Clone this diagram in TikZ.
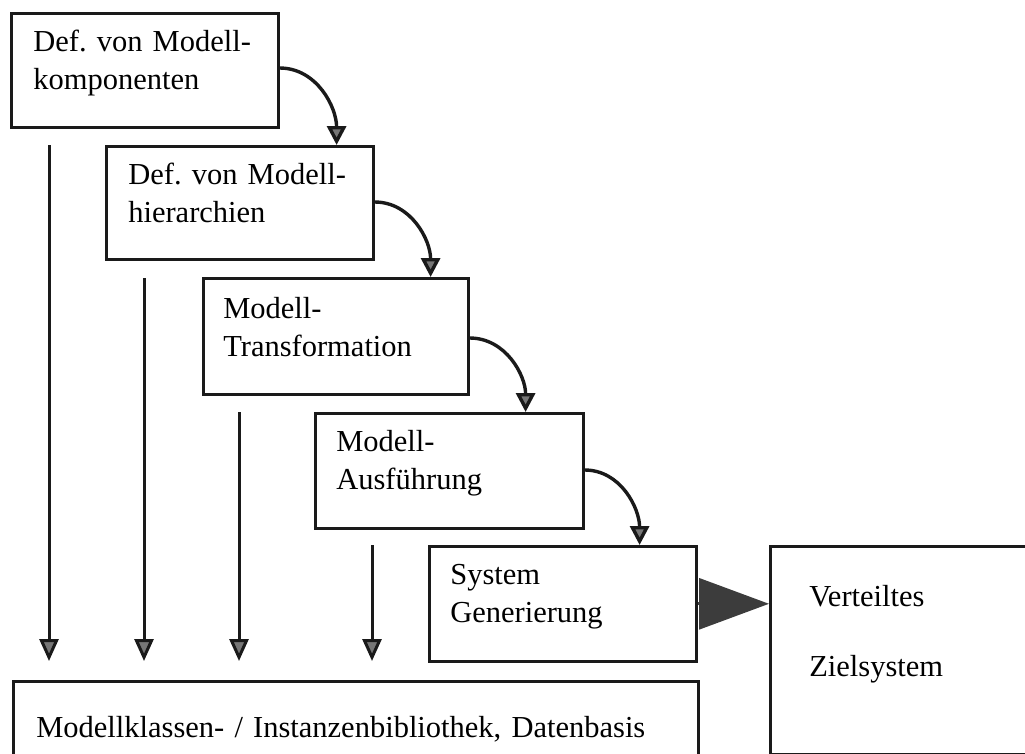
\documentclass[tikz,border=0pt]{standalone}
\usepackage{fontspec}
\setmainfont{Liberation Serif}
\usetikzlibrary{arrows.meta,calc}
\definecolor{linec}{HTML}{1A1A1A}
\definecolor{headc}{HTML}{777777}
\definecolor{bigc}{HTML}{3C3C3C}
\tikzset{
  stage/.style={draw=linec, line width=2.6pt, anchor=north west, inner ysep=0pt,
    align=left, font=\fontsize{30.5}{38}\selectfont\frenchspacing, text height=38pt},
  curv/.style={draw=linec, line width=3.4pt,
    -{Triangle[length=19pt,width=19pt,fill=headc]}},
  vert/.style={draw=linec, line width=3pt, shorten >=19pt,
    -{Triangle[length=22pt,width=19pt,fill=headc]}},
  bigarr/.style={draw=bigc, line width=3pt,
    -{Triangle[length=70pt,width=51pt,fill=bigc]}}
}
\begin{document}
\begin{tikzpicture}[x=1pt,y=-1pt]
\useasboundingbox (0,0) rectangle (1025,753);
\clip (0,0) rectangle (1025,753);
% stage boxes
\node[stage, inner xsep=22pt, text width=223pt, text depth=76pt] (b1) at (10,12)
  {Def. von Modell-\\komponenten};
\node[stage, inner xsep=22pt, text width=223pt, text depth=75pt] (b2) at (105,145)
  {Def. von Modell-\\hierarchien};
\node[stage, inner xsep=20pt, text height=40pt, text width=225pt, text depth=76pt] (b3) at (202,277)
  {Modell-\\Transformation};
\node[stage, inner xsep=21pt, text width=226pt, text depth=77pt] (b4) at (314,412)
  {Modell-\\Ausführung};
\node[stage, inner xsep=21pt, text width=225pt, text depth=77pt] (b5) at (428,545)
  {System\\Generierung};
% library box
\node[stage, inner xsep=23pt, text height=56pt, text width=639pt, text depth=64pt] (lib) at (12,680)
  {Modellklassen- / Instanzenbibliothek, Datenbasis};
% target system box
\node[stage, font=\fontsize{30.5}{70}\selectfont, inner xsep=39pt, text height=60pt,
  text width=200pt, text depth=148pt] (rb) at (769,545)
  {Verteiltes\\Zielsystem};
% curved arrows between stages
\coordinate (e1) at ($(b1.north east)+(57,0)$);
\coordinate (e2) at ($(b2.north east)+(56,0)$);
\coordinate (e3) at ($(b3.north east)+(56,0)$);
\coordinate (e4) at ($(b4.north east)+(55,0)$);
\draw[curv] ($(b1.north east)+(0,56)$) to[out=0,in=90] (e1 |- b2.north);
\draw[curv] ($(b2.north east)+(0,57)$) to[out=0,in=90] (e2 |- b3.north);
\draw[curv] ($(b3.north east)+(0,61)$) to[out=0,in=90] (e3 |- b4.north);
\draw[curv] ($(b4.north east)+(0,58)$) to[out=0,in=90] (e4 |- b5.north);
% vertical arrows into the library
\coordinate (v1) at (49,145);
\coordinate (v2) at (144,278);
\coordinate (v3) at (239,412);
\coordinate (v4) at (372,545);
\draw[vert] (v1) -- (v1 |- lib.north);
\draw[vert] (v2) -- (v2 |- lib.north);
\draw[vert] (v3) -- (v3 |- lib.north);
\draw[vert] (v4) -- (v4 |- lib.north);
% big arrow to target system
\draw[bigarr] (b5.east) -- (b5.east -| rb.west);
\end{tikzpicture}
\end{document}
